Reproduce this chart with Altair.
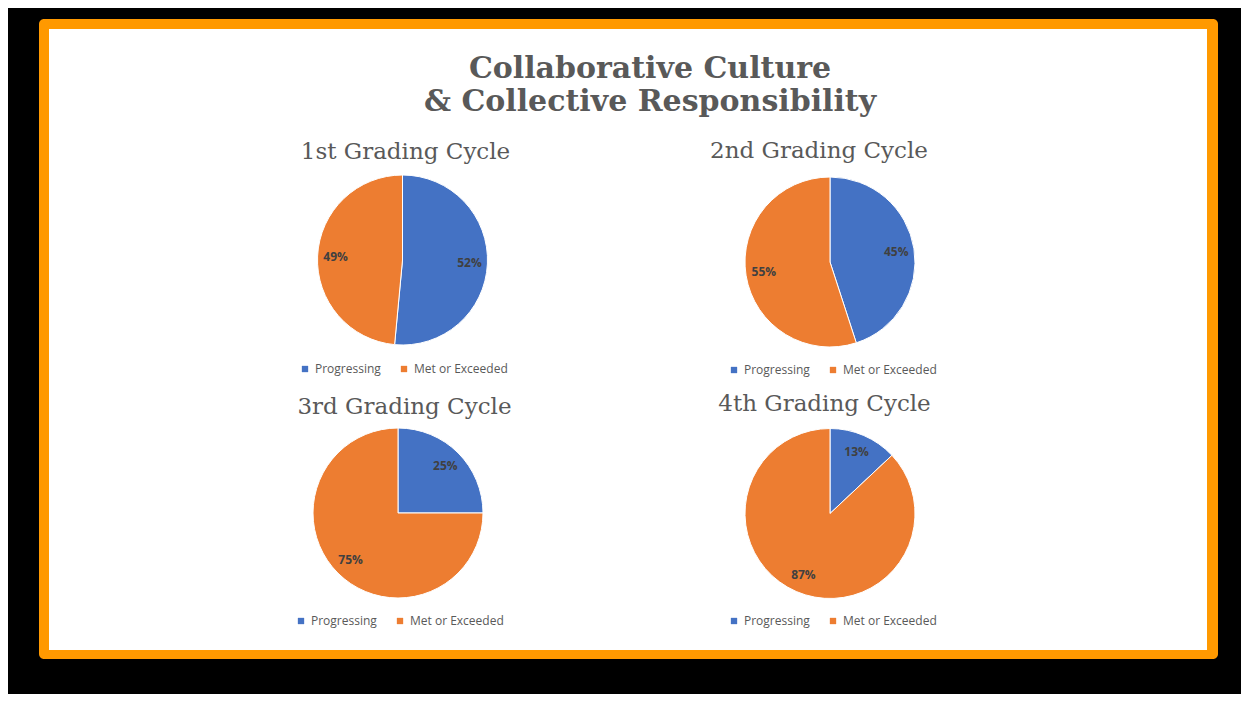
import altair as alt
import pandas as pd

# ---- data ----
title_lines = ["Collaborative Culture", "& Collective Responsibility"]
cycles = ["1st Grading Cycle", "2nd Grading Cycle", "3rd Grading Cycle", "4th Grading Cycle"]
statuses = ["Progressing", "Met or Exceeded"]
progressing = [52, 45, 25, 13]
met_or_exceeded = [49, 55, 75, 87]

# ---- layout (pixels, chart coordinates) ----
W, H = 1233, 686
pie_centers = [(394.5, 252), (822, 254), (390, 505), (822, 505.5)]
sub_pos = [(397.5, 151), (811, 150), (396.5, 406), (816.5, 403)]
legend_pos = [(291, 355), (720, 356), (287, 607), (720, 607)]
title_pos = [(642, 70), (642, 103)]
R = 85
LABEL_R = 67

BLUE = "#4472C4"
ORANGE = "#ED7D31"
FRAME = "#FF9900"
GREY = "#595959"

rows = []
for c, p, m in zip(cycles, progressing, met_or_exceeded):
    rows.append({"cycle": c, "status": statuses[0], "value": p, "ord": 0})
    rows.append({"cycle": c, "status": statuses[1], "value": m, "ord": 1})
df = pd.DataFrame(rows)

one = pd.DataFrame({"k": [0]})

layers = []
# orange frame + white panel on the black chart background
layers.append(
    alt.Chart(one).mark_rect(color=FRAME, cornerRadius=5).encode(
        x=alt.value(31), x2=alt.value(1210), y=alt.value(11), y2=alt.value(651)
    )
)
layers.append(
    alt.Chart(one).mark_rect(color="white").encode(
        x=alt.value(41), x2=alt.value(1199), y=alt.value(21), y2=alt.value(642)
    )
)
# main title
for line, (tx, ty) in zip(title_lines, title_pos):
    layers.append(
        alt.Chart(pd.DataFrame({"t": [line]})).mark_text(
            font="DejaVu Serif", fontWeight="bold", fontSize=30, color=GREY,
            align="center", baseline="alphabetic"
        ).encode(text="t:N", x=alt.value(tx), y=alt.value(ty))
    )

for i, c in enumerate(cycles):
    cx, cy = pie_centers[i]
    sx, sy = sub_pos[i]
    lx, ly = legend_pos[i]
    base = alt.Chart(df).transform_filter(alt.datum.cycle == c)
    arc = base.mark_arc(radius=R, stroke="white", strokeWidth=1).encode(
        theta=alt.Theta("value:Q", stack=True),
        color=alt.Color(
            "status:N",
            scale=alt.Scale(domain=statuses, range=[BLUE, ORANGE]),
            sort=statuses,
            legend=alt.Legend(
                title=None, orient="none", legendX=lx, legendY=ly,
                direction="horizontal", symbolType="square", symbolSize=40,
                symbolStrokeWidth=0, labelFont="Open Sans", labelFontSize=12,
                labelColor=GREY, columnPadding=17, labelOffset=4,
            ),
        ),
        order=alt.Order("ord:Q"),
        x=alt.value(cx),
        y=alt.value(cy),
    )
    lab = base.transform_calculate(label="datum.value + '%'").mark_text(
        radius=LABEL_R, font="Open Sans", fontWeight="bold", fontSize=12,
        color="#404040", align="center", baseline="middle"
    ).encode(
        theta=alt.Theta("value:Q", stack=True),
        text="label:N",
        order=alt.Order("ord:Q"),
        x=alt.value(cx),
        y=alt.value(cy),
    )
    sub = alt.Chart(pd.DataFrame({"t": [c]})).mark_text(
        font="DejaVu Serif", fontSize=23, color=GREY,
        align="center", baseline="alphabetic"
    ).encode(text="t:N", x=alt.value(sx), y=alt.value(sy))
    layers.extend([arc, lab, sub])

chart = alt.layer(*layers).resolve_scale(
    theta="independent", color="independent"
).resolve_legend(color="independent").properties(
    width=W, height=H, background="black", padding=0,
    autosize=alt.AutoSizeParams(type="none")
).configure_view(stroke=None)

chart.save("out.html", embed_options={"renderer": "svg", "actions": False})
